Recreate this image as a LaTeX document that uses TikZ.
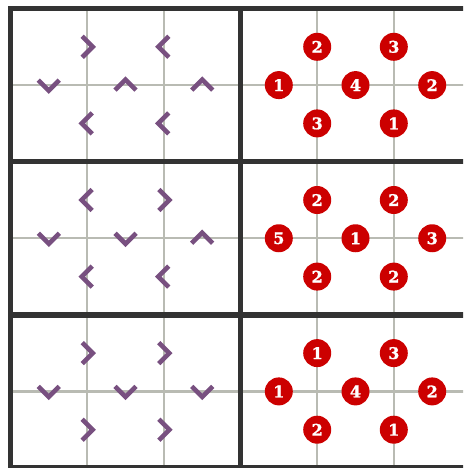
\documentclass[tikz,border=0pt]{standalone}
\usepackage{fontspec}
\newfontfamily\numfont{DejaVu Serif Bold}[FakeBold=1.2]
\definecolor{gridgrey}{RGB}{185,187,179}
\definecolor{framedark}{RGB}{51,51,51}
\definecolor{chevpurple}{RGB}{120,80,128}
\definecolor{dotred}{RGB}{204,0,0}
\begin{document}
\begin{tikzpicture}[x=1pt,y=-1pt,
  thingrid/.style={draw=gridgrey,line width=2.4pt},
  frame/.style={draw=framedark,line width=5.5pt},
  chev/.style={draw=chevpurple,line width=4.6pt,line join=miter},
  dot/.style={circle,fill=dotred,minimum size=28pt,inner sep=0pt,text=white,
    font=\numfont\fontsize{16}{16}\selectfont},
  pics/chevron/.style={code={\draw[chev] (-5,-10.5) -- (5.5,0) -- (-5,10.5);}}]
\useasboundingbox (0,0) rectangle (463,468);
\clip (0,0) rectangle (463,468);
% thin grey grid
\foreach \gx in {87.2,163.8,317.2,393.8}
  \draw[thingrid] (\gx,8.5) -- (\gx,468);
\foreach \gy in {85.1,238.25,391.4}
  \draw[thingrid] (10.5,\gy) -- (470.5,\gy);
% thick frame
\draw[frame] (10.5,8.5) rectangle (470.5,468);
\draw[frame] (240.5,8.5) -- (240.5,468);
\draw[frame] (10.5,161.67) -- (470.5,161.67);
\draw[frame] (10.5,314.83) -- (470.5,314.83);
% chevrons (0 = >, 90 = ^, 180 = <, 270 = v)
\foreach \cx/\cy/\ca in {
  87.2/46.8/0, 163.8/46.8/180, 48.8/85.1/270, 125.5/85.1/90, 202.2/85.1/90, 87.2/123.4/180, 163.8/123.4/180,
  87.2/200/180, 163.8/200/0, 48.8/238.25/270, 125.5/238.25/270, 202.2/238.25/90, 87.2/276.6/180, 163.8/276.6/180,
  87.2/353.1/0, 163.8/353.1/0, 48.8/391.4/270, 125.5/391.4/270, 202.2/391.4/270, 87.2/429.7/0, 163.8/429.7/0}
  \pic[rotate=\ca] at (\cx,\cy) {chevron};
% numbered dots
\foreach \dx/\dy/\dn [count=\i] in {
  317.2/46.8/2, 393.8/46.8/3, 278.8/85.1/1, 355.5/85.1/4, 432.2/85.1/2, 317.2/123.4/3, 393.8/123.4/1,
  317.2/200/2, 393.8/200/2, 278.8/238.25/5, 355.5/238.25/1, 432.2/238.25/3, 317.2/276.6/2, 393.8/276.6/2,
  317.2/353.1/1, 393.8/353.1/3, 278.8/391.4/1, 355.5/391.4/4, 432.2/391.4/2, 317.2/429.7/2, 393.8/429.7/1}
  \node[dot] (d\i) at (\dx,\dy) {\dn};
\end{tikzpicture}
\end{document}
